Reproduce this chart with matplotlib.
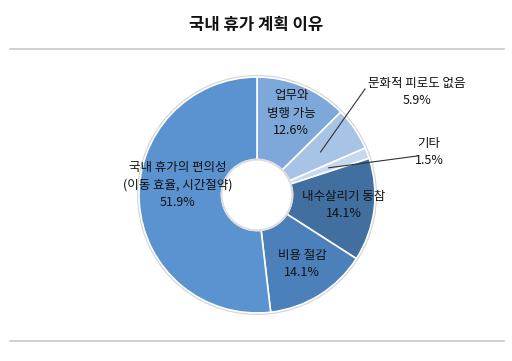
import matplotlib
matplotlib.use("Agg")
import matplotlib.pyplot as plt
import numpy as np
from matplotlib.patches import Circle

plt.rcParams['font.family'] = ['Noto Sans CJK KR', 'DejaVu Sans']

TITLE = "국내 휴가 계획 이유"
LABELS = ["업무와\n병행 가능", "문화적 피로도 없음", "기타",
          "내수살리기 동참", "비용 절감", "국내 휴가의 편의성\n(이동 효율, 시간절약)"]
VALUES = [12.6, 5.9, 1.5, 14.1, 14.1, 51.9]
COLORS = ["#7EA8DA", "#A7C3E6", "#C5D8EF", "#416FA0", "#4B80BB", "#5A93CF"]

# label placement in pixels (x, y from top); leader=True draws a line
LABEL_POS = [(291, 113), (417, 92), (429, 152), (344, 205), (302, 264), (178, 185)]
LEADER = [False, True, True, False, False, False]

W, H = 512, 361
CX, CY, R = 257, H - 195, 118
HOLE = 0.30

fig = plt.figure(figsize=(W / 100, H / 100), dpi=100)
fig.patch.set_facecolor("white")
ax = fig.add_axes([0, 0, 1, 1])

wedges, _ = ax.pie(VALUES, colors=COLORS, startangle=90, counterclock=False,
                   center=(CX, CY), radius=R,
                   wedgeprops=dict(width=R * (1 - HOLE), edgecolor="white", linewidth=1.2))

# soft outline around ring and hole
ax.add_patch(Circle((CX, CY), R + 1, fill=False, ec="#d6d6d6", lw=1.5, zorder=0))
ax.add_patch(Circle((CX, CY), R * HOLE, fc="white", ec="#dddddd", lw=1.5, zorder=3))

for w, lab, val, (px, py), lead in zip(wedges, LABELS, VALUES, LABEL_POS, LEADER):
    txt = f"{lab}\n{val:.1f}%"
    ty = H - py
    ax.text(px, ty, txt, ha="center", va="center", fontsize=9,
            color="#111111", linespacing=1.4, zorder=5)
    if lead:
        mid = np.deg2rad((w.theta1 + w.theta2) / 2)
        sx = CX + 0.65 * R * np.cos(mid)
        sy = CY + 0.65 * R * np.sin(mid)
        if lab == "기타":
            ex, ey = px - 12, ty - 4
        else:
            ex, ey = px - 52, ty + 3
        ax.plot([sx, ex], [sy, ey], color="#333333", lw=0.8, zorder=4)

ax.text(W / 2, H - 25, TITLE, ha="center", va="center", fontsize=12,
        fontweight="bold", color="#111111")
ax.plot([10, 504], [H - 49, H - 49], color="#c8c8c8", lw=1.2)
ax.plot([10, 504], [H - 341, H - 341], color="#c8c8c8", lw=1.2)

ax.set_xlim(0, W)
ax.set_ylim(0, H)
ax.axis("off")

fig.savefig("out.png", dpi=100)
